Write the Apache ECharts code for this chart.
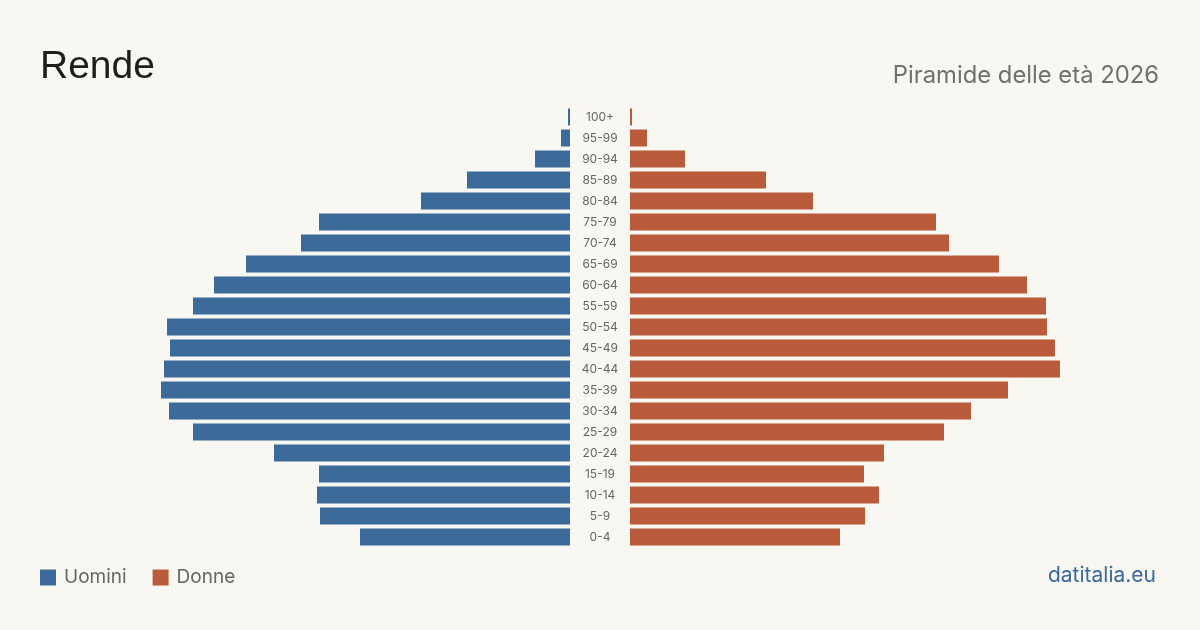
<!DOCTYPE html>
<html>
<head>
<meta charset="utf-8">
<script src="https://cdn.jsdelivr.net/npm/echarts@6/dist/echarts.min.js"></script>
<style>
html,body{margin:0;padding:0;background:#f9f7f2;}
#chart{width:1200px;height:630px;}
</style>
</head>
<body>
<div id="chart"></div>
<script>
const ageGroups = ['0-4','5-9','10-14','15-19','20-24','25-29','30-34','35-39','40-44','45-49','50-54','55-59','60-64','65-69','70-74','75-79','80-84','85-89','90-94','95-99','100+'];
const uomini = [210,250,253,251,296,377,401,409,406,400,403,377,356,324,269,251,149,103,35,9,2];
const donne  = [210,235,249,234,254,314,341,378,430,425,417,416,397,369,319,306,183,136,55,17,2];
const axisMax = 430;
const BLUE = '#3b6a9b', ORANGE = '#b95c3b';

const chart = echarts.init(document.getElementById('chart'));
chart.setOption({
  backgroundColor: '#f9f7f2',
  animation: false,
  title: [
    {text: 'Rende', left: 40, top: 48, padding: 0, textStyle: {fontFamily: 'Liberation Sans', fontSize: 39, fontWeight: 'normal', color: '#1e1e1e'}},
    {text: 'Piramide delle età 2026', right: 41, top: 64, padding: 0, textStyle: {fontFamily: 'Inter', fontSize: 23.8, fontWeight: 'normal', color: '#707070'}},
    {text: 'datitalia.eu', right: 44, top: 565, padding: 0, textStyle: {fontFamily: 'Inter', fontSize: 21, fontWeight: 'normal', color: '#3a6a9c'}}
  ],
  legend: {
    left: 40, top: 568, padding: 0, itemWidth: 16, itemHeight: 16, itemGap: 26, icon: 'rect',
    textStyle: {fontFamily: 'Inter', fontSize: 19, color: '#666', padding: [0, 0, 0, 3]},
    data: ['Uomini','Donne']
  },
  grid: [
    {left: 140, right: 630, top: 106.5, height: 441},
    {left: 630, right: 140, top: 106.5, height: 441}
  ],
  xAxis: [
    {gridIndex: 0, type: 'value', min: 0, max: axisMax, inverse: true, show: false},
    {gridIndex: 1, type: 'value', min: 0, max: axisMax, show: false}
  ],
  yAxis: [
    {gridIndex: 0, type: 'category', data: ageGroups, position: 'right',
     axisLine: {show: false}, axisTick: {show: false},
     axisLabel: {align: 'center', margin: 30, fontFamily: 'Inter', fontSize: 12, color: '#666'}},
    {gridIndex: 1, type: 'category', data: ageGroups, show: false}
  ],
  series: [
    {name: 'Uomini', type: 'bar', xAxisIndex: 0, yAxisIndex: 0, data: uomini, barWidth: 17, itemStyle: {color: BLUE}},
    {name: 'Donne', type: 'bar', xAxisIndex: 1, yAxisIndex: 1, data: donne, barWidth: 17, itemStyle: {color: ORANGE}}
  ]
});
</script>
</body>
</html>
